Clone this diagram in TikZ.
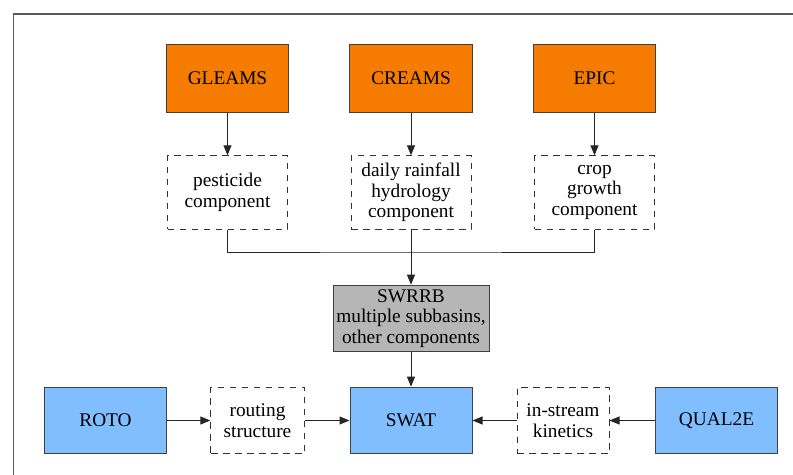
\documentclass[tikz,border=0pt]{standalone}
\usepackage{fontspec}
\setmainfont{Liberation Serif}
\usepackage{tikz}
\usetikzlibrary{positioning,arrows.meta}
\usepackage{xcolor}
\definecolor{modelorange}{RGB}{245,124,0}
\definecolor{modelblue}{RGB}{128,190,255}
\definecolor{modelgray}{RGB}{182,182,182}
\tikzstyle{model}=[rectangle, draw=black!75, line width=0.75pt, inner sep=0pt,
align=center, text=black, font=\fontsize{14.5}{15.5}\selectfont]
\tikzstyle{origin}=[model, fill=modelorange, minimum width=92pt, minimum height=51pt]
\tikzstyle{part}=[model, draw=black!80, dashed, dash pattern=on 5pt off 4pt, fill=white,
minimum width=90pt, minimum height=55pt]
\tikzstyle{target}=[model, fill=modelblue, minimum width=91.5pt, minimum height=50pt]
\tikzstyle{link}=[draw=black!85, line width=0.75pt, -{Triangle[length=7.5pt,width=6pt]}]

\begin{document}
\begin{tikzpicture}[x=0.75pt, y=-0.75pt]
            \useasboundingbox (0,0) rectangle (793,475);
            \draw[black!65, line width=1.1pt] (13.5,14) rectangle (812,492);
            % source models
            \node (1)[origin] at (227.5,78) {GLEAMS};
            \node (2)[origin] at (411,78) {CREAMS};
            \node (3)[origin] at (594.5,78) {EPIC};
            % components taken over
            \node (4)[part] at (227.5,192.5) {pesticide\\component};
            \node (5)[part] at (411,192.5) {daily rainfall\\hydrology\\component};
            \node (6)[part] at (594.5,192.5) {crop\\growth\\component};
            \node (7)[model, fill=modelgray, minimum width=117pt, minimum height=50pt] at (411,318.5)
                {SWRRB\\multiple subbasins,\\other components};
            % bottom row
            \node (8)[target] at (411,420.5) {SWAT};
            \node (9)[target] at (105.5,420.5) {ROTO};
            \node (10)[part, minimum width=70pt, minimum height=50pt] at (257.5,420.5) {routing\\structure};
            \node (11)[target] at (716.5,420.5) {QUAL2E};
            \node (12)[part, minimum width=69pt, minimum height=50pt] at (563,420.5) {in-stream\\kinetics};
            \coordinate (j) at (411,252);

            \draw[link] (1) -- (4);
            \draw[link] (2) -- (5);
            \draw[link] (3) -- (6);
            \draw[black!85, line width=0.75pt] (4.south) |- (j) -| (6.south);
            \draw[link] (5) -- (7);
            \draw[link] (7) -- (8);
            \draw[link] (9) -- (10);
            \draw[link] (10) -- (8);
            \draw[link] (11) -- (12);
            \draw[link] (12) -- (8);
        \end{tikzpicture}
\end{document}
